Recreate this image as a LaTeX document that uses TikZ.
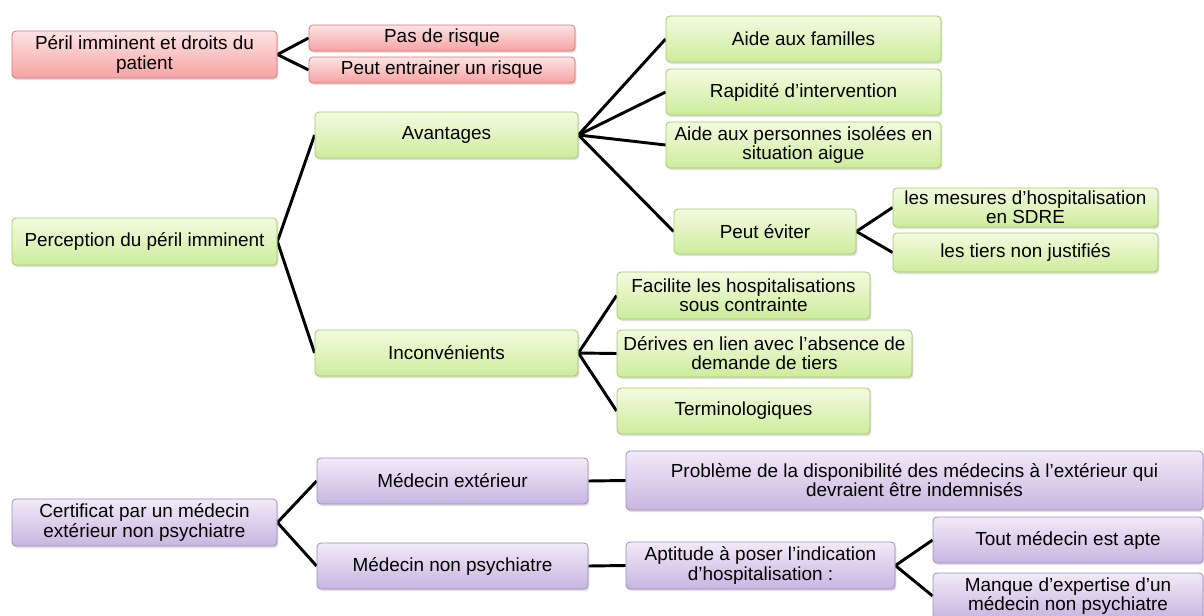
\documentclass[tikz,border=0pt]{standalone}
\usepackage{fontspec}
\setmainfont{Liberation Sans}
\usepackage{tikz}
\usetikzlibrary{shadows}
\usetikzlibrary{backgrounds}

\definecolor{redtop}{HTML}{FDE3E3}
\definecolor{redbot}{HTML}{F6A3A3}
\definecolor{redline}{HTML}{D77676}
\definecolor{greentop}{HTML}{F3FBDF}
\definecolor{greenbot}{HTML}{CDEC9C}
\definecolor{greenline}{HTML}{A3C86A}
\definecolor{purptop}{HTML}{F1EAF8}
\definecolor{purpbot}{HTML}{C8B5E0}
\definecolor{purpline}{HTML}{A08BBE}

\begin{document}
\begin{tikzpicture}[
  x=0.75pt,
  y=-0.75pt,
  box/.style={
    rectangle, rounded corners=3pt, line width=0.6pt,
    align=center, inner sep=1pt,
    font=\fontsize{14.2}{14.3}\selectfont,
    drop shadow={shadow xshift=1pt, shadow yshift=-1.5pt, opacity=0.25},
  },
  redbox/.style={box, draw=redline, top color=redtop, bottom color=redbot},
  greenbox/.style={box, draw=greenline, top color=greentop, bottom color=greenbot},
  purpbox/.style={box, draw=purpline, top color=purptop, bottom color=purpbot},
  link/.style={line width=2.2pt, black},
  ]

  \useasboundingbox (0,0) rectangle (1204,615);

  % Peril imminent et droits du patient
  \node[redbox, minimum width=198.75pt, minimum height=35.25pt] (peril) at (144.5,54.5)
    {P\'eril imminent et droits du\\patient};
  \node[redbox, minimum width=199.5pt, minimum height=19.5pt] (pasrisque) at (442,38)
    {Pas de risque};
  \node[redbox, minimum width=199.5pt, minimum height=19.5pt] (risque) at (442,70)
    {Peut entrainer un risque};

  % Perception du peril imminent
  \node[greenbox, minimum width=198.75pt, minimum height=35.25pt] (percep) at (144.5,241.5)
    {Perception du p\'eril imminent};
  \node[greenbox, minimum width=197.25pt, minimum height=34.5pt] (avant) at (446.5,135)
    {Avantages};
  \node[greenbox, minimum width=197.25pt, minimum height=34.5pt] (incon) at (446.5,353)
    {Inconv\'enients};
  \node[greenbox, minimum width=206.25pt, minimum height=34.5pt] (famil) at (803.5,39)
    {Aide aux familles};
  \node[greenbox, minimum width=206.25pt, minimum height=34.5pt] (rapid) at (803.5,92)
    {Rapidit\'e d’intervention};
  \node[greenbox, minimum width=206.25pt, minimum height=34.5pt] (isol) at (803.5,145)
    {Aide aux personnes isol\'ees en\\situation aigue};
  \node[greenbox, minimum width=136.5pt, minimum height=33.75pt] (eviter) at (765,231.5)
    {Peut \'eviter};
  \node[greenbox, minimum width=198.75pt, minimum height=29.25pt] (mesures) at (1025.5,207.5)
    {les mesures d’hospitalisation\\en SDRE};
  \node[greenbox, minimum width=198.75pt, minimum height=29.25pt] (tiers) at (1025.5,252.5)
    {les tiers non justifi\'es};
  \node[greenbox, minimum width=189.75pt, minimum height=35.25pt] (facil) at (743.5,295.5)
    {Facilite les hospitalisations\\sous contrainte};
  \node[greenbox, minimum width=221.25pt, minimum height=35.25pt] (deriv) at (764.5,353.5)
    {D\'erives en lien avec l’absence de\\demande de tiers};
  \node[greenbox, minimum width=189.75pt, minimum height=34.5pt] (termi) at (743.5,411)
    {Terminologiques};

  % Certificat par un medecin exterieur
  \node[purpbox, minimum width=198.75pt, minimum height=35.25pt] (certif) at (144.5,522.5)
    {Certificat par un m\'edecin\\ext\'erieur non psychiatre};
  \node[purpbox, minimum width=203.25pt, minimum height=34.5pt] (medext) at (452.5,481)
    {M\'edecin ext\'erieur};
  \node[purpbox, minimum width=203.25pt, minimum height=34.5pt] (mednon) at (452.5,566)
    {M\'edecin non psychiatre};
  \node[purpbox, minimum width=432.75pt, minimum height=44.25pt] (dispo) at (914.5,480.5)
    {Probl\`eme de la disponibilit\'e des m\'edecins \`a l’ext\'erieur qui\\devraient \^etre indemnis\'es};
  \node[purpbox, minimum width=201.75pt, minimum height=35.25pt] (aptit) at (760.5,565.5)
    {Aptitude \`a poser l’indication\\d’hospitalisation :};
  \node[purpbox, minimum width=202.5pt, minimum height=34.5pt] (apte) at (1068,540)
    {Tout m\'edecin est apte};
  \node[purpbox, minimum width=202.5pt, minimum height=34.5pt] (expert) at (1068,596)
    {Manque d’expertise d’un\\m\'edecin non psychiatre};

  % Connectors
  \begin{scope}[on background layer]
    \foreach \c in {pasrisque,risque}
      \draw[link] (peril.east) -- (\c.west);
    \foreach \c in {avant,incon}
      \draw[link] (percep.east) -- (\c.west);
    \foreach \c in {famil,rapid,isol,eviter}
      \draw[link] (avant.east) -- (\c.west);
    \foreach \c in {mesures,tiers}
      \draw[link] (eviter.east) -- (\c.west);
    \foreach \c in {facil,deriv,termi}
      \draw[link] (incon.east) -- (\c.west);
    \foreach \c in {medext,mednon}
      \draw[link] (certif.east) -- (\c.west);
    \draw[link] (medext.east) -- (dispo.west);
    \draw[link] (mednon.east) -- (aptit.west);
    \foreach \c in {apte,expert}
      \draw[link] (aptit.east) -- (\c.west);
  \end{scope}

\end{tikzpicture}
\end{document}
